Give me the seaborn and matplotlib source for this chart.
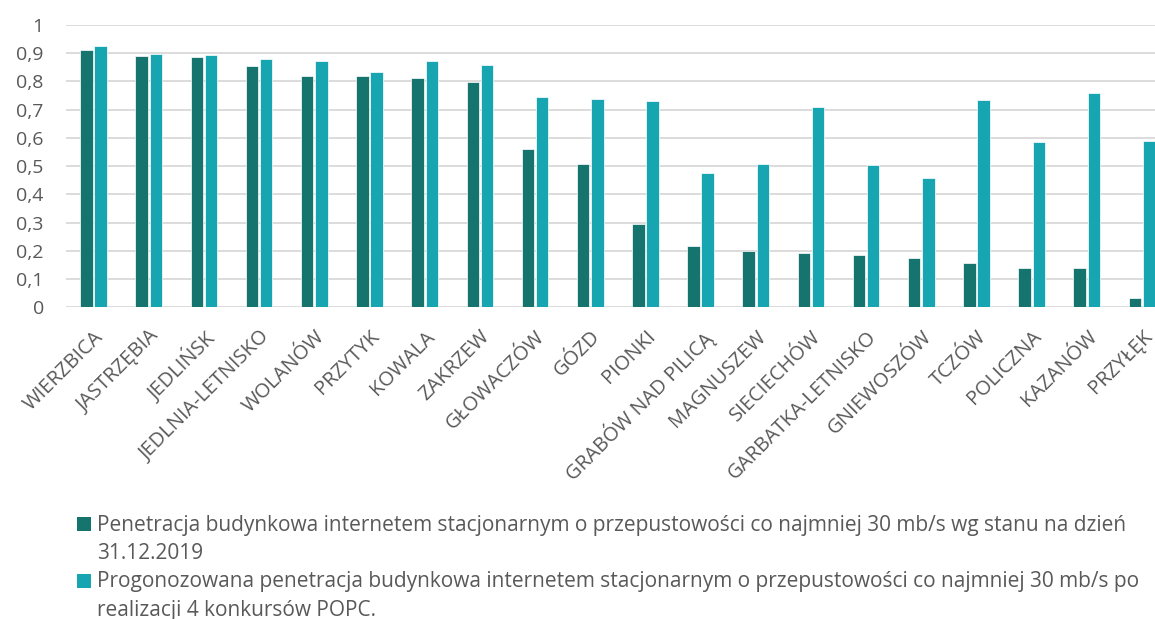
import numpy as np
import pandas as pd
import matplotlib
matplotlib.use("Agg")
import matplotlib.pyplot as plt
from matplotlib.patches import Rectangle
import seaborn as sns
from matplotlib.ticker import FuncFormatter

gminy = ["WIERZBICA", "JASTRZĘBIA", "JEDLIŃSK", "JEDLNIA-LETNISKO", "WOLANÓW",
         "PRZYTYK", "KOWALA", "ZAKRZEW", "GŁOWACZÓW", "GÓZD", "PIONKI",
         "GRABÓW NAD PILICĄ", "MAGNUSZEW", "SIECIECHÓW", "GARBATKA-LETNISKO",
         "GNIEWOSZÓW", "TCZÓW", "POLICZNA", "KAZANÓW", "PRZYŁĘK"]

stan_2019 = [0.910, 0.889, 0.888, 0.854, 0.821, 0.818, 0.811, 0.797, 0.561, 0.506,
             0.295, 0.217, 0.198, 0.191, 0.184, 0.176, 0.158, 0.139, 0.139, 0.033]
prognoza = [0.924, 0.896, 0.893, 0.880, 0.871, 0.835, 0.871, 0.860, 0.745, 0.737,
            0.730, 0.475, 0.509, 0.711, 0.503, 0.459, 0.734, 0.587, 0.758, 0.590]

seria_1 = ["Penetracja budynkowa internetem stacjonarnym o przepustowości co najmniej 30 mb/s wg stanu na dzień",
           "31.12.2019"]
seria_2 = ["Progonozowana penetracja budynkowa internetem stacjonarnym o przepustowości co najmniej 30 mb/s po",
           "realizacji 4 konkursów POPC."]
kolory = ["#15756E", "#17A5B1"]

df = pd.DataFrame({
    "gmina": gminy * 2,
    "wartosc": stan_2019 + prognoza,
    "seria": ["2019"] * len(gminy) + ["prognoza"] * len(gminy),
})

sns.set_style("white")
plt.rcParams["font.family"] = ["Open Sans", "DejaVu Sans"]

W, H = 1155, 619
fig = plt.figure(figsize=(W / 100, H / 100), dpi=100)
ax = fig.add_axes([66 / W, 1 - 307.3 / H, (W - 66) / W, 282.3 / H])

sns.barplot(data=df, x="gmina", y="wartosc", hue="seria",
            palette=kolory, saturation=1, width=0.515, gap=0.12,
            edgecolor="white", linewidth=0.5, ax=ax, legend=False)

ax.set_ylim(0, 1)
ax.set_xlim(-0.5, len(gminy) - 1 + 0.235)
ax.set_yticks(np.arange(0, 1.01, 0.1))
ax.yaxis.set_major_formatter(FuncFormatter(lambda v, p: "0" if v == 0 else ("1" if abs(v - 1) < 1e-9 else f"{v:.1f}".replace(".", ","))))
ax.yaxis.grid(True, color="#D9D9D9", linewidth=1.3)
ax.set_axisbelow(True)
for s in ax.spines.values():
    s.set_visible(False)
ax.set_xlabel("")
ax.set_ylabel("")
ax.tick_params(axis="y", labelsize=14, labelcolor="#595959", length=0, pad=16)
ax.tick_params(axis="x", labelsize=14.5, labelcolor="#595959", length=0, pad=14)
plt.setp(ax.get_xticklabels(), rotation=45, ha="right", rotation_mode="anchor")

# legenda pod wykresem
for k, (linie, kolor) in enumerate(zip([seria_1, seria_2], kolory)):
    top = 517 + k * 57
    fig.patches.append(Rectangle((77 / W, 1 - (top + 14) / H), 14 / W, 14 / H,
                                 transform=fig.transFigure, facecolor=kolor,
                                 edgecolor="none"))
    for j, linia in enumerate(linie):
        fig.text(97 / W, 1 - (top + 13.5 + j * 28.5) / H, linia, fontsize=15,
                 color="#595959", va="baseline", ha="left")

fig.savefig("out.png", dpi=100)
